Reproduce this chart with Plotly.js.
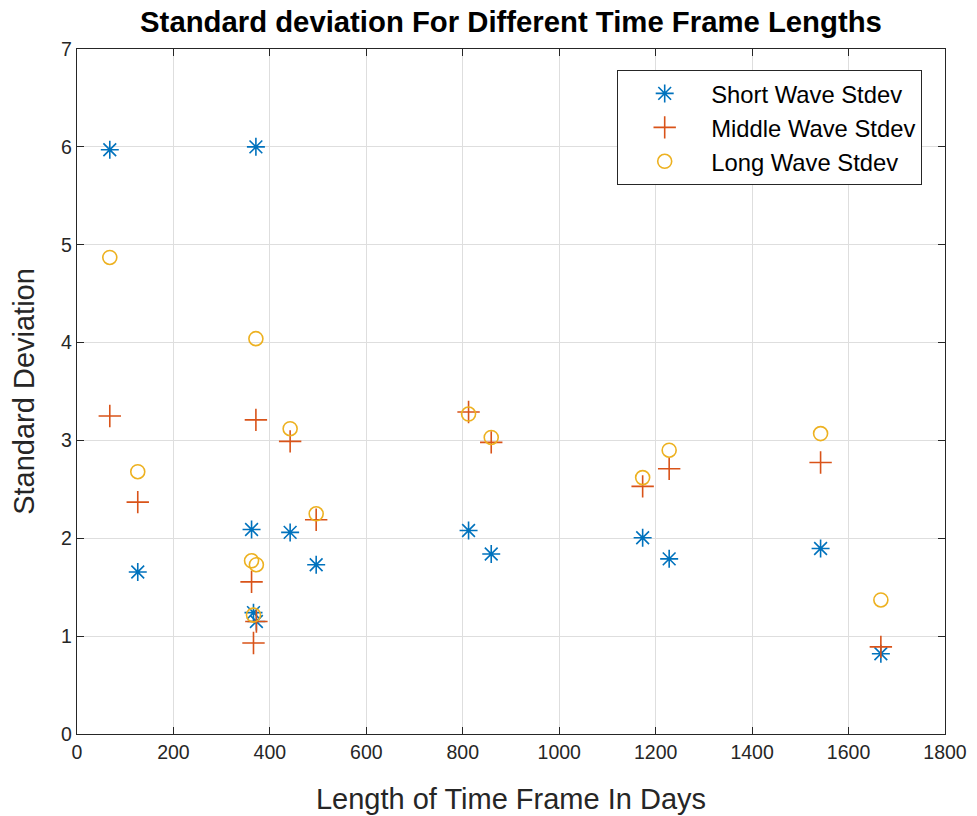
<!DOCTYPE html>
<html>
<head>
<meta charset="utf-8">
<script src="https://cdn.plot.ly/plotly-3.0.1.min.js"></script>
<style>html,body{margin:0;padding:0;background:#fff;}#chart{width:977px;height:816px;}</style>
</head>
<body>
<div id="chart"></div>
<script>
const days = [68, 126, 371, 362, 366, 372, 442, 496, 812, 859, 1173, 1228, 1542, 1667];
const shortStdev = [5.97, 1.655, 6.0, 2.09, 1.24, 1.15, 2.06, 1.73, 2.08, 1.84, 2.005, 1.79, 1.895, 0.82];
const middleStdev = [3.25, 2.37, 3.21, 1.555, 0.93, 1.15, 2.99, 2.19, 3.29, 2.98, 2.53, 2.71, 2.775, 0.89];
const longStdev = [4.87, 2.68, 4.04, 1.77, 1.215, 1.73, 3.12, 2.25, 3.27, 3.03, 2.62, 2.90, 3.07, 1.37];
const seriesNames = ["Short Wave Stdev", "Middle Wave Stdev", "Long Wave Stdev"];
const xTicks = [0, 200, 400, 600, 800, 1000, 1200, 1400, 1600, 1800];
const yTicks = [0, 1, 2, 3, 4, 5, 6, 7];

const font = "Liberation Sans, Arial, Helvetica, sans-serif";
const traces = [
  {x: days, y: shortStdev, name: seriesNames[0], type: "scatter", mode: "markers",
   marker: {symbol: "asterisk-open", size: 15, color: "#0072BD", line: {color: "#0072BD", width: 1.6}}},
  {x: days, y: middleStdev, name: seriesNames[1], type: "scatter", mode: "markers",
   marker: {symbol: "cross-thin-open", size: 16, color: "#D95319", line: {color: "#D95319", width: 1.6}}},
  {x: days, y: longStdev, name: seriesNames[2], type: "scatter", mode: "markers",
   marker: {symbol: "circle-open", size: 14, color: "#EDB120", line: {color: "#EDB120", width: 1.6}}}
];
const axisCommon = {
  showline: true, linecolor: "#262626", linewidth: 1.2, mirror: "allticks",
  ticks: "inside", ticklen: 7, tickcolor: "#262626", tickwidth: 1,
  showgrid: true, gridcolor: "#dedede", gridwidth: 1, zeroline: false,
  tickfont: {family: font, size: 19.5, color: "#262626"}
};
const layout = {
  width: 977, height: 816,
  margin: {l: 77, r: 32, t: 49, b: 82},
  paper_bgcolor: "#ffffff", plot_bgcolor: "#ffffff",
  title: {text: "<b>Standard deviation For Different Time Frame Lengths</b>",
          font: {family: font, size: 29.3, color: "#000000"}, x: 0.523, xanchor: "center", y: 0.973, yanchor: "middle"},
  xaxis: Object.assign({}, axisCommon, {range: [0, 1800], tickvals: xTicks, ticktext: xTicks.map(String),
          title: {text: "Length of Time Frame In Days", font: {family: font, size: 29, color: "#262626"}, standoff: 27}}),
  yaxis: Object.assign({}, axisCommon, {range: [0, 7], tickvals: yTicks, ticktext: yTicks.map(String),
          title: {text: "Standard Deviation", font: {family: font, size: 29, color: "#262626"}, standoff: 17}}),
  showlegend: true,
  legend: {x: 0.9735, xanchor: "right", y: 0.969, yanchor: "top", bgcolor: "#ffffff",
           bordercolor: "#262626", borderwidth: 1.2, itemwidth: 83,
           font: {family: font, size: 23.8, color: "#000000"}}
};
Plotly.newPlot("chart", traces, layout, {displayModeBar: false, staticPlot: true});
</script>
</body>
</html>
